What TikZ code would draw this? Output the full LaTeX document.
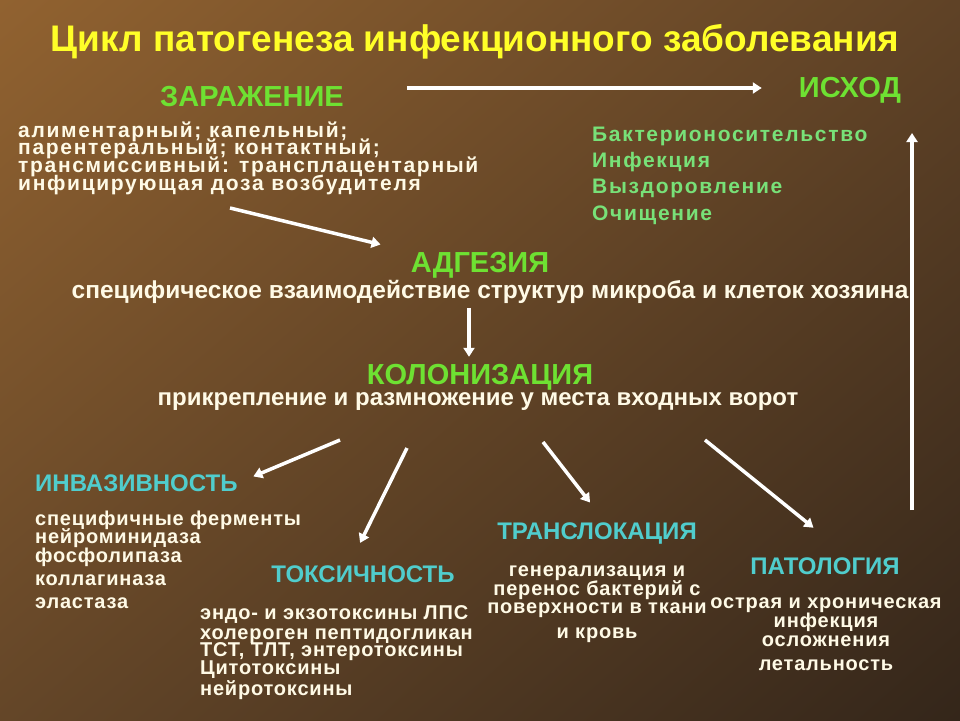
\documentclass[tikz,border=0pt]{standalone}
\usepackage{fontspec}
\setmainfont{Liberation Sans}
\newfontfamily\spacedfont[LetterSpace=4]{Liberation Sans}
\newfontfamily\widefont[LetterSpace=8]{Liberation Sans}
\usetikzlibrary{arrows.meta,shadings}
\newcommand\tightlines{\lineskiplimit=-20pt\relax}
\definecolor{titleyellow}{RGB}{255,255,40}
\definecolor{stagegreen}{RGB}{110,225,50}
\definecolor{outgreen}{RGB}{120,225,120}
\definecolor{stagecyan}{RGB}{80,205,205}
\definecolor{bodycream}{RGB}{255,250,230}
\definecolor{bgtl}{RGB}{145,98,48}
\definecolor{bgtr}{RGB}{95,66,38}
\definecolor{bgbl}{RGB}{100,70,40}
\definecolor{bgbr}{RGB}{52,38,26}
\tikzset{
    titlenode/.style = {
        font=\bfseries\fontsize{37}{40}\selectfont,
        text=titleyellow,
        inner sep=0pt
    },
    stagenode/.style = {
        font=\bfseries\fontsize{29}{32}\selectfont,
        text=stagegreen,
        inner sep=0pt
    },
    effectnode/.style = {
        stagenode,
        font=\bfseries\fontsize{24}{28}\selectfont,
        text=stagecyan
    },
    bodynode/.style = {
        font={\spacedfont\bfseries\fontsize{20}{18}\selectfont\tightlines},
        text=bodycream,
        inner sep=0pt
    },
    routenode/.style = {
        bodynode,
        font={\widefont\bfseries\fontsize{21}{17}\selectfont\tightlines}
    },
    widebodynode/.style = {
        bodynode,
        font=\bfseries\fontsize{24.5}{28}\selectfont
    },
    outnode/.style = {
        bodynode,
        font={\widefont\bfseries\fontsize{21}{26}\selectfont\tightlines},
        text=outgreen
    },
    arrowline/.style = {
        draw=white,
        line width=3.5pt,
        -{Triangle[length=9pt,width=11pt]}
    }
}
\begin{document}
\begin{tikzpicture}[x=1pt,y=-1pt]
    \shade[upper left=bgtl, upper right=bgtr, lower left=bgbl, lower right=bgbr]
        (0,0) rectangle (960,720);
    \useasboundingbox (0,0) rectangle (960,720);
    % title and the first and last stage
    \node [titlenode] (title) at (475,42) {Цикл патогенеза инфекционного заболевания};
    \node [stagenode] (infection) at (252,97) {ЗАРАЖЕНИЕ};
    \node [stagenode] (outcome) at (850,90) {ИСХОД};
    \node [routenode, anchor=north west, align=left] (routes) at (18,122)
        {алиментарный; капельный;\\ парентеральный; контактный;\\[1pt]
         трансмиссивный: трансплацентарный\\[1pt] инфицирующая доза возбудителя};
    \node [outnode, anchor=north west, align=left] (outcomes) at (592,127)
        {Бактерионосительство\\ Инфекция\\ Выздоровление\\[1pt] Очищение};
    % adhesion and colonization
    \node [stagenode] (adhesion) at (480,265) {АДГЕЗИЯ};
    \node [widebodynode] (adhdesc) at (490,292)
        {специфическое взаимодействие структур микроба и клеток хозяина};
    \node [stagenode] (colon) at (480,377) {КОЛОНИЗАЦИЯ};
    \node [widebodynode, font=\bfseries\fontsize{24}{28}\selectfont] (colondesc) at (478,402)
        {прикрепление и размножение у места входных ворот};
    % effects
    \node [effectnode, anchor=west] (invasion) at (35,483) {ИНВАЗИВНОСТЬ};
    \node [bodynode, anchor=north west, align=left] (invlist) at (35,511)
        {специфичные ферменты\\ нейроминидаза\\[1pt] фосфолипаза\\[5pt]
         коллагиназа\\[5pt] эластаза};
    \node [effectnode] (toxic) at (363,574) {ТОКСИЧНОСТЬ};
    \node [bodynode, anchor=north west, align=left] (toxlist) at (200,605)
        {эндо- и экзотоксины ЛПС\\[2pt] холероген пептидогликан\\[-1pt]
         ТСТ, ТЛТ, энтеротоксины\\ Цитотоксины\\[3pt] нейротоксины};
    \node [effectnode] (transloc) at (597,534) {ТРАНСЛОКАЦИЯ};
    \node [bodynode, anchor=north, align=center] (translist) at (597,565)
        {генерализация и\\[1pt] перенос бактерий с\\ поверхности в ткани\\[7pt] и кровь};
    \node [effectnode] (pathology) at (825,566) {ПАТОЛОГИЯ};
    \node [bodynode, anchor=north, align=center] (pathlist) at (826,597)
        {острая и хроническая\\[1pt] инфекция\\[1pt] осложнения\\[6pt] летальность};
    % free ends of the arrows
    \coordinate (toprow) at (0,88);
    \coordinate (downcol) at (469,0);
    \coordinate (routesend) at (230,208);
    \coordinate (fan1) at (340,440);
    \coordinate (fan2) at (407,448);
    \coordinate (fan3) at (543,442);
    \coordinate (fan4) at (705,440);
    \coordinate (backstart) at (912,510);
    \coordinate (backend) at (912,133);
    % connectors
    \draw [arrowline, shorten <=63pt, shorten >=37pt]
        (infection.east |- toprow) -- (outcome.west |- toprow);
    \draw [arrowline, shorten >=31pt] (routesend) -- (adhesion.north west);
    \draw [arrowline, shorten <=4pt, shorten >=7pt]
        (adhdesc.south -| downcol) -- (colon.north -| downcol);
    \draw [arrowline, shorten >=17pt] (fan1) -- (invasion.east);
    \draw [arrowline, shorten >=25pt] (fan2) -- ([xshift=-14pt]toxic.north);
    \draw [arrowline, shorten >=26pt] (fan3) -- ([xshift=9pt]transloc.north);
    \draw [arrowline, shorten >=47pt] (fan4) -- ([xshift=25pt]pathology.north);
    \draw [arrowline] (backstart) -- (backend);
\end{tikzpicture}
\end{document}
